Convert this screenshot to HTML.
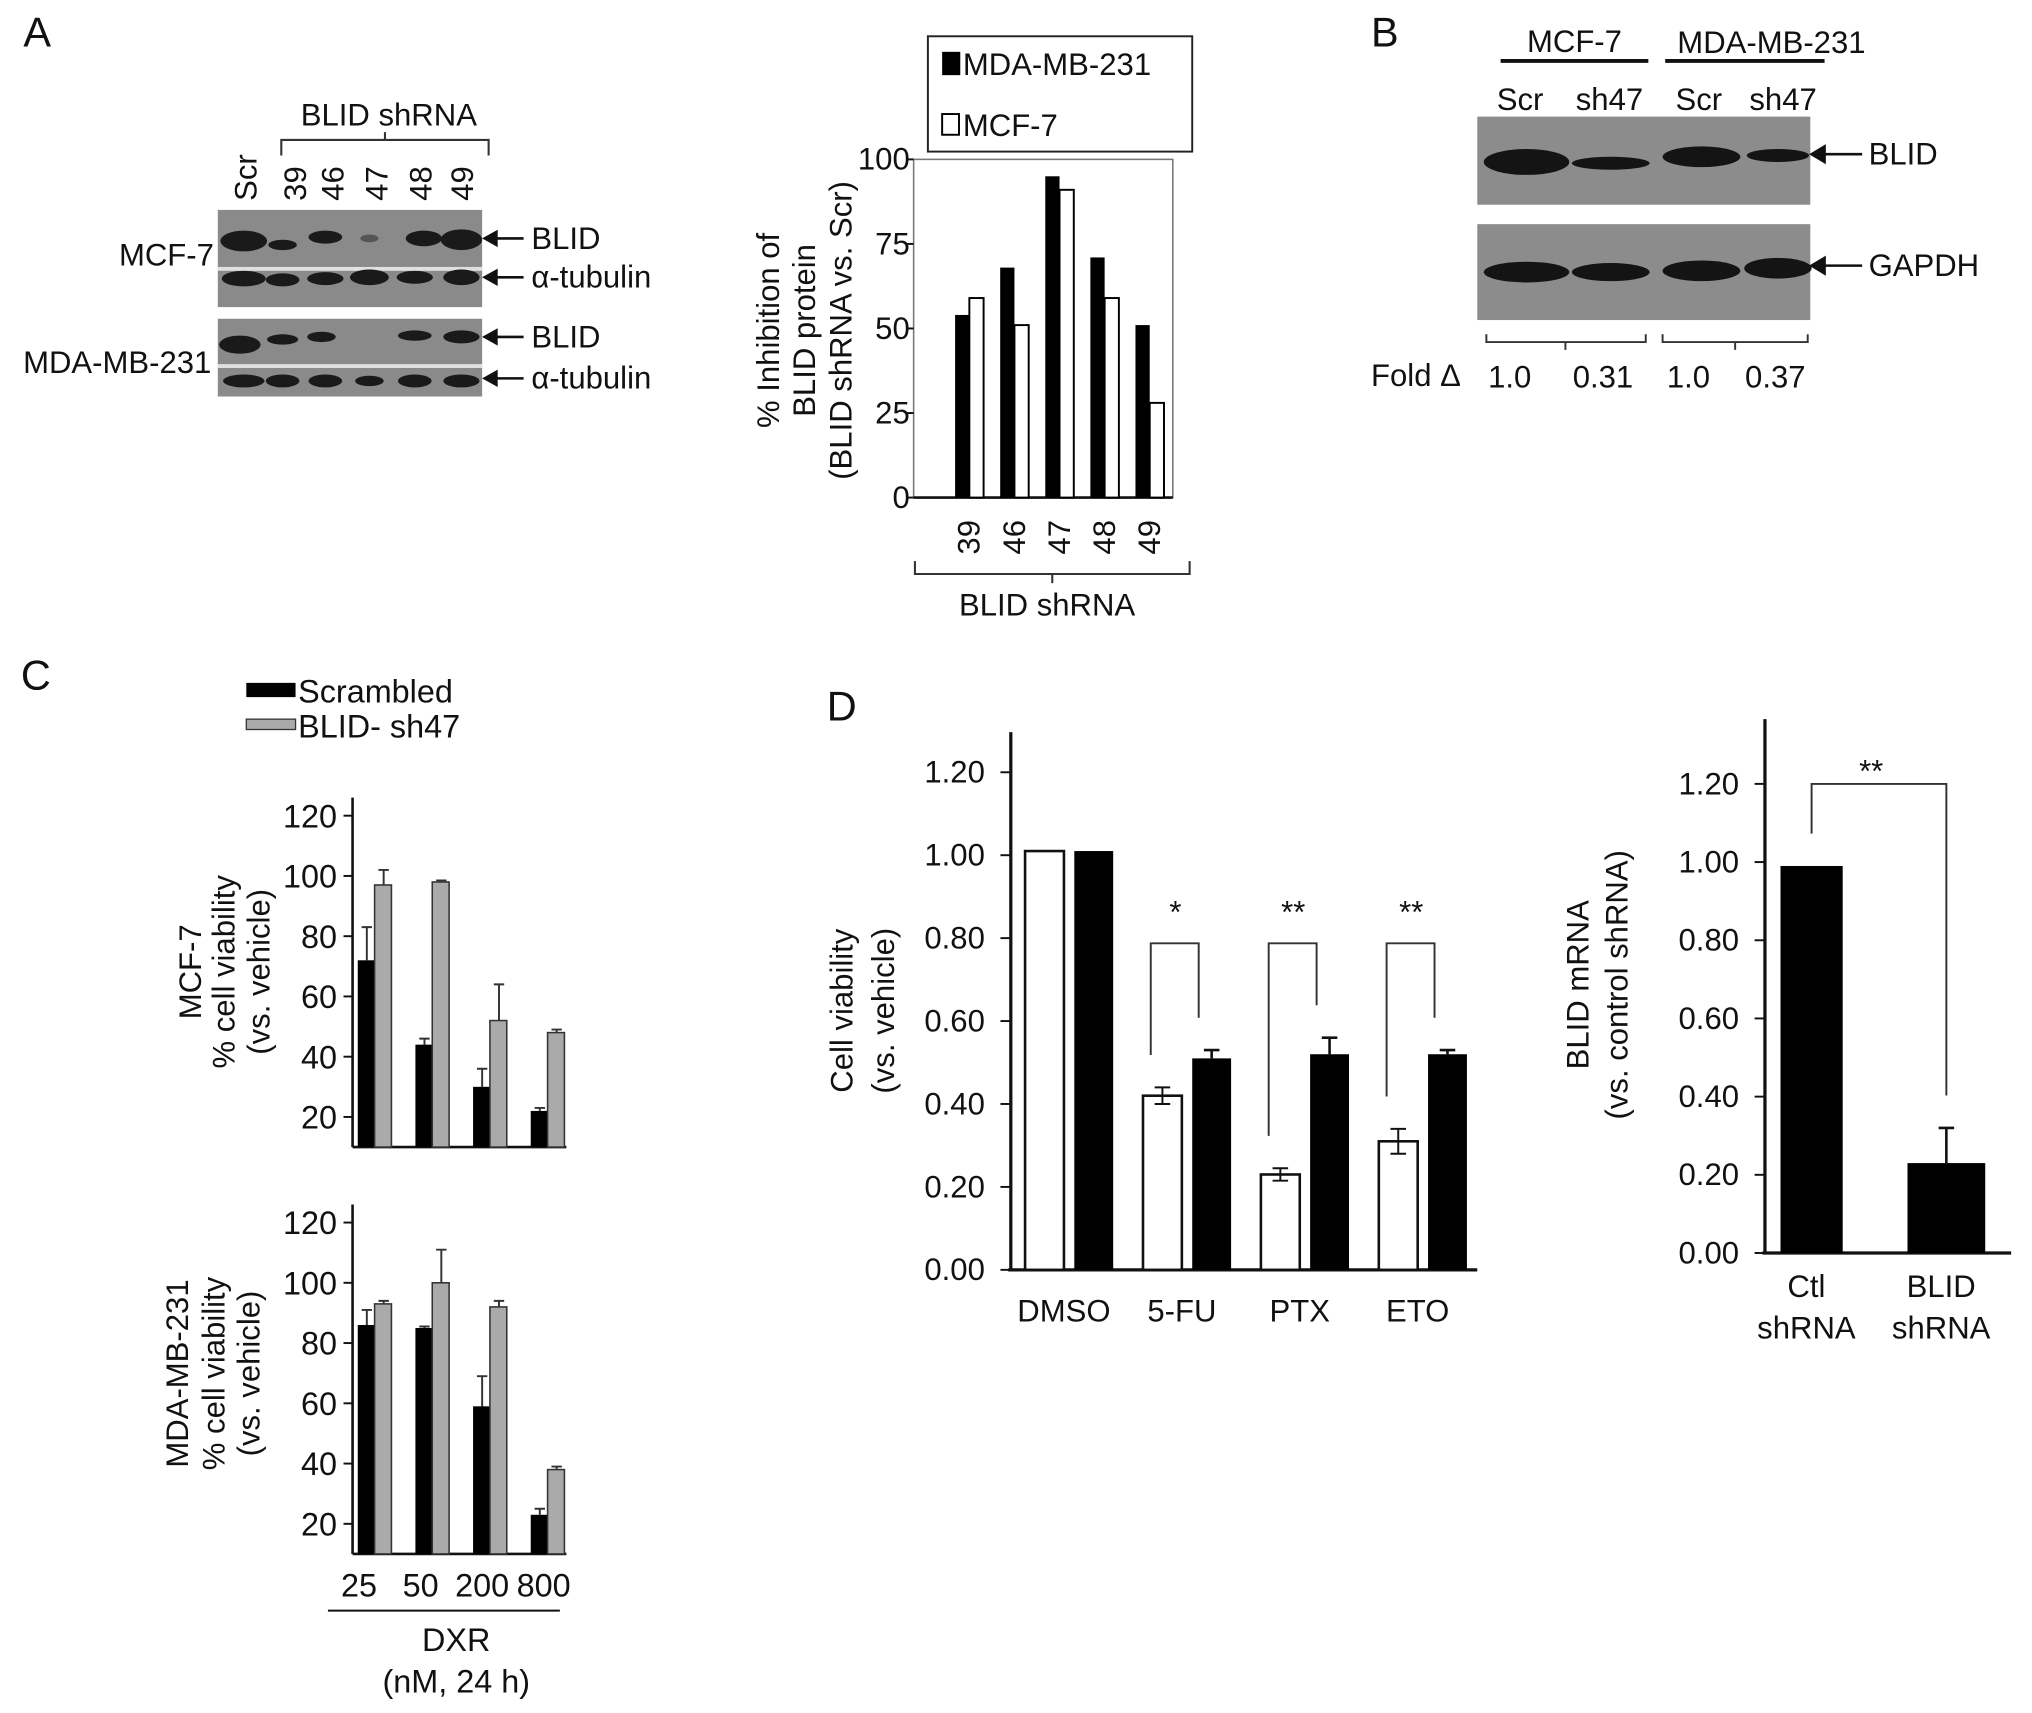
<!DOCTYPE html>
<html><head><meta charset="utf-8"><style>
html,body{margin:0;padding:0;background:#fff}
svg{display:block}
text{font-family:"Liberation Sans",Arial,sans-serif;fill:#111}
</style></head><body>
<svg id="fig" width="2032" height="1713" viewBox="0 0 1568 1322" xmlns="http://www.w3.org/2000/svg">
<text x="18" y="36" font-size="32">A</text>
<text x="1058" y="36" font-size="32">B</text>
<text x="16" y="532" font-size="32">C</text>
<text x="638" y="556" font-size="32">D</text>

<g font-size="24">
<text x="300" y="97" text-anchor="middle">BLID shRNA</text>
<path d="M217,120 V108 H377 V120 M297,108 V102" fill="none" stroke="#333" stroke-width="1.6"/>
<g>
<text transform="translate(198,155) rotate(-90)">Scr</text>
<text transform="translate(236,155) rotate(-90)">39</text>
<text transform="translate(265,155) rotate(-90)">46</text>
<text transform="translate(299,155) rotate(-90)">47</text>
<text transform="translate(333,155) rotate(-90)">48</text>
<text transform="translate(365,155) rotate(-90)">49</text>
</g>
<rect x="168" y="162" width="204" height="75" fill="#8a8a8a"/>
<rect x="168" y="206" width="204" height="3" fill="#e0e0e0"/>
<rect x="168" y="246" width="204" height="60" fill="#8a8a8a"/>
<rect x="168" y="281" width="204" height="3" fill="#e0e0e0"/>
<g fill="#1a1a1a">
<ellipse cx="188" cy="186" rx="18" ry="8"/><ellipse cx="218" cy="189" rx="11" ry="4"/><ellipse cx="251" cy="183" rx="13" ry="5"/><ellipse cx="285" cy="184" rx="7" ry="3" fill="#555"/><ellipse cx="327" cy="184" rx="14" ry="6"/><ellipse cx="356" cy="185" rx="16" ry="8"/>
<ellipse cx="188" cy="215" rx="17" ry="6"/><ellipse cx="218" cy="216" rx="13" ry="5"/><ellipse cx="251" cy="215" rx="14" ry="5"/><ellipse cx="285" cy="214" rx="15" ry="6"/><ellipse cx="320" cy="214" rx="14" ry="5"/><ellipse cx="356" cy="214" rx="14" ry="6"/>
<ellipse cx="185" cy="266" rx="16" ry="7"/><ellipse cx="218" cy="262" rx="12" ry="4"/><ellipse cx="248" cy="260" rx="11" ry="4"/><ellipse cx="320" cy="259" rx="13" ry="4"/><ellipse cx="356" cy="260" rx="14" ry="5"/>
<ellipse cx="188" cy="294" rx="16" ry="5"/><ellipse cx="218" cy="294" rx="13" ry="5"/><ellipse cx="251" cy="294" rx="13" ry="5"/><ellipse cx="285" cy="294" rx="11" ry="4"/><ellipse cx="320" cy="294" rx="13" ry="5"/><ellipse cx="356" cy="294" rx="14" ry="5"/>
</g>
<text x="165" y="205" text-anchor="end">MCF-7</text>
<text x="163" y="288" text-anchor="end">MDA-MB-231</text>
<g stroke="#111" stroke-width="2" fill="#111">
<line x1="378" y1="184" x2="404" y2="184"/><path d="M374,184 l9,-5 v10z"/>
<line x1="378" y1="214" x2="404" y2="214"/><path d="M374,214 l9,-5 v10z"/>
<line x1="378" y1="260" x2="404" y2="260"/><path d="M374,260 l9,-5 v10z"/>
<line x1="378" y1="292" x2="404" y2="292"/><path d="M374,292 l9,-5 v10z"/>
</g>
<text x="410" y="192">BLID</text><text x="410" y="222">α-tubulin</text>
<text x="410" y="268">BLID</text><text x="410" y="300">α-tubulin</text>
</g>

<g id="chartA" font-size="24">
<rect x="716" y="28" width="204" height="89" fill="#fff" stroke="#222" stroke-width="1.5"/>
<rect x="727" y="40" width="14" height="18" fill="#000"/>
<text x="743" y="58">MDA-MB-231</text>
<rect x="727" y="88" width="13" height="16" fill="#fff" stroke="#000" stroke-width="1.5"/>
<text x="743" y="105">MCF-7</text>
<rect x="705" y="123" width="200" height="261" fill="none" stroke="#777" stroke-width="1.2"/>
<line x1="705" y1="384" x2="905" y2="384" stroke="#111" stroke-width="2"/>
<g font-size="24">
<text transform="translate(601,255) rotate(-90)" text-anchor="middle">% Inhibition of</text>
<text transform="translate(629,255) rotate(-90)" text-anchor="middle">BLID protein</text>
<text transform="translate(657,255) rotate(-90)" text-anchor="middle">(BLID shRNA vs. Scr)</text>
</g>
<path d="M706,433 V443 H918 V433 M812,443 V450" fill="none" stroke="#333" stroke-width="1.6"/>
<text x="808" y="475" text-anchor="middle">BLID shRNA</text>
</g>

<g font-size="24">
<text x="1215" y="40" text-anchor="middle">MCF-7</text>
<line x1="1158" y1="47" x2="1272" y2="47" stroke="#111" stroke-width="3"/>
<text x="1367" y="41" text-anchor="middle">MDA-MB-231</text>
<line x1="1285" y1="47" x2="1408" y2="47" stroke="#111" stroke-width="3"/>
<text x="1173" y="85" text-anchor="middle">Scr</text><text x="1242" y="85" text-anchor="middle">sh47</text>
<text x="1311" y="85" text-anchor="middle">Scr</text><text x="1376" y="85" text-anchor="middle">sh47</text>
<rect x="1140" y="90" width="257" height="68" fill="#8c8c8c"/>
<rect x="1140" y="173" width="257" height="74" fill="#8c8c8c"/>
<g fill="#141414">
<ellipse cx="1178" cy="125" rx="33" ry="10"/><ellipse cx="1243" cy="126" rx="30" ry="5"/><ellipse cx="1313" cy="121" rx="30" ry="8"/><ellipse cx="1372" cy="120" rx="24" ry="5"/>
<ellipse cx="1178" cy="210" rx="33" ry="8"/><ellipse cx="1243" cy="210" rx="30" ry="7"/><ellipse cx="1313" cy="209" rx="30" ry="8"/><ellipse cx="1372" cy="207" rx="26" ry="8"/>
</g>
<g stroke="#111" stroke-width="2" fill="#111">
<line x1="1402" y1="119" x2="1437" y2="119"/><path d="M1398,119 l10,-6 v12z"/>
<line x1="1402" y1="205" x2="1437" y2="205"/><path d="M1398,205 l10,-6 v12z"/>
</g>
<text x="1442" y="127">BLID</text><text x="1442" y="213">GAPDH</text>
<path d="M1147,258 V264 H1270 V258 M1208,264 V270 M1283,258 V264 H1395 V258 M1339,264 V270" fill="none" stroke="#333" stroke-width="1.5"/>
<text x="1058" y="298">Fold Δ</text>
<text x="1165" y="299" text-anchor="middle">1.0</text><text x="1237" y="299" text-anchor="middle">0.31</text>
<text x="1303" y="299" text-anchor="middle">1.0</text><text x="1370" y="299" text-anchor="middle">0.37</text>
</g>

<g id="chartC" font-size="25">
<rect x="190" y="527" width="38" height="11" fill="#000"/>
<text x="230" y="542">Scrambled</text>
<rect x="190" y="555" width="38" height="8" fill="#aaa" stroke="#333" stroke-width="1"/>
<text x="230" y="569">BLID- sh47</text>
<g font-size="24">
<text transform="translate(155,750) rotate(-90)" text-anchor="middle">MCF-7</text>
<text transform="translate(181,750) rotate(-90)" text-anchor="middle">% cell viability</text>
<text transform="translate(208,750) rotate(-90)" text-anchor="middle">(vs. vehicle)</text>
<text transform="translate(145,1060) rotate(-90)" text-anchor="middle">MDA-MB-231</text>
<text transform="translate(173,1060) rotate(-90)" text-anchor="middle">% cell viability</text>
<text transform="translate(200,1060) rotate(-90)" text-anchor="middle">(vs. vehicle)</text>
</g>
<line x1="253" y1="1243" x2="432" y2="1243" stroke="#111" stroke-width="1.6"/>
<text x="352" y="1274" text-anchor="middle">DXR</text>
<text x="352" y="1306" text-anchor="middle">(nM, 24 h)</text>
</g>

<g id="chartD1" font-size="24">
<g font-size="24">
<text transform="translate(658,780) rotate(-90)" text-anchor="middle">Cell viability</text>
<text transform="translate(690,780) rotate(-90)" text-anchor="middle">(vs. vehicle)</text>
</g>
</g>
<g id="chartD2" font-size="24">
<g font-size="24">
<text transform="translate(1226,760) rotate(-90)" text-anchor="middle">BLID mRNA</text>
<text transform="translate(1256,760) rotate(-90)" text-anchor="middle">(vs. control shRNA)</text>
</g>
</g>
</svg>
<script>
const NS="http://www.w3.org/2000/svg";
const aCats=["39","46","47","48","49"];
const aMDA=[54,68,95,71,51];
const aMCF=[59,51,91,59,28];
const aTicks=[0,25,50,75,100];
const cCats=["25","50","200","800"];
const cTicks=[20,40,60,80,100,120];
const cMcfScr=[72,44,30,22];
const cMcfScrErr=[11,2,6,1];
const cMcfSh=[97,98,52,48];
const cMcfShErr=[5,0.5,12,1];
const cMdaScr=[86,85,59,23];
const cMdaScrErr=[5,0.5,10,2];
const cMdaSh=[93,100,92,38];
const cMdaShErr=[1,11,2,1];
const dCats=["DMSO","5-FU","PTX","ETO"];
const dTicks=[0,0.2,0.4,0.6,0.8,1.0,1.2];
const dWhite=[1.01,0.42,0.23,0.31];
const dWhiteErr=[0,0.02,0.015,0.03];
const dBlack=[1.01,0.51,0.52,0.52];
const dBlackErr=[0,0.02,0.04,0.01];
const dSig=["","*","**","**"];
const eCats=[["Ctl","shRNA"],["BLID","shRNA"]];
const eVals=[0.99,0.23];
const eErr=[0,0.09];
const eTicks=[0,0.2,0.4,0.6,0.8,1.0,1.2];

function mk(parent,tag,attrs,txt){const e=document.createElementNS(NS,tag);for(const k in attrs)e.setAttribute(k,attrs[k]);if(txt!==undefined)e.textContent=txt;parent.appendChild(e);return e;}

(function(){
 const g=document.getElementById('chartA');
 const y=v=>384-v*2.61;
 const cx=i=>748+i*34.8;
 aTicks.forEach(t=>{mk(g,'line',{x1:700,x2:705,y1:y(t),y2:y(t),stroke:'#111','stroke-width':1.5});
  const tx=mk(g,'text',{x:702,y:y(t)+8,'text-anchor':'end'},String(t));
  
  });
 aCats.forEach((c,i)=>{
  const b=mk(g,'rect',{x:cx(i)-11,y:y(aMDA[i]),width:11,height:384-y(aMDA[i]),fill:'#000'});
  
  
  const w=mk(g,'rect',{x:cx(i),y:y(aMCF[i]),width:11,height:384-y(aMCF[i]),fill:'#fff',stroke:'#000','stroke-width':1.5});
  
  
  const t=mk(g,'text',{transform:`translate(${cx(i)+8},428) rotate(-90)`},c);
  
  
 });
})();

function cPanel(top0,scr,scrE,sh,shE,name,showX){
 const g=document.getElementById('chartC');
 const base=top0;
 const y=v=>base-(v-20)*2.325;
 const bottom=y(10);
 const cx=i=>289+i*44.5;
 mk(g,'line',{x1:272,x2:272,y1:y(126),y2:bottom,stroke:'#111','stroke-width':2});
 mk(g,'line',{x1:272,x2:437,y1:bottom,y2:bottom,stroke:'#111','stroke-width':2});
 cTicks.forEach(t=>{mk(g,'line',{x1:265,x2:272,y1:y(t),y2:y(t),stroke:'#111','stroke-width':1.5});
  const tx=mk(g,'text',{x:260,y:y(t)+9,'text-anchor':'end'},String(t));
  
  });
 cCats.forEach((c,i)=>{
  const eb=(x,v,e)=>{mk(g,'path',{d:`M${x},${y(v)} V${y(v+e)} M${x-4},${y(v+e)} H${x+4}`,stroke:'#333','stroke-width':1.5,fill:'none'});};
  eb(cx(i)-6,scr[i],scrE[i]); eb(cx(i)+7,sh[i],shE[i]);
  const b=mk(g,'rect',{x:cx(i)-13,y:y(scr[i]),width:13,height:bottom-y(scr[i]),fill:'#000'});
  
  
  const s=mk(g,'rect',{x:cx(i),y:y(sh[i]),width:13,height:bottom-y(sh[i]),fill:'#aaa',stroke:'#333','stroke-width':1.2});
  
  
  if(showX){const t=mk(g,'text',{x:277+i*47.5,y:1232,'text-anchor':'middle'},c);
   
   }
 });
}
cPanel(862,cMcfScr,cMcfScrErr,cMcfSh,cMcfShErr,'mcf7',false);
cPanel(1176,cMdaScr,cMdaScrErr,cMdaSh,cMdaShErr,'mda',true);

(function(){
 const g=document.getElementById('chartD1');
 const y=v=>980-v*320;
 const cx=i=>824+i*91;
 mk(g,'line',{x1:780,x2:780,y1:565,y2:981,stroke:'#111','stroke-width':2.5});
 mk(g,'line',{x1:778,x2:1140,y1:980,y2:980,stroke:'#111','stroke-width':2.5});
 dTicks.forEach(t=>{mk(g,'line',{x1:772,x2:780,y1:y(t),y2:y(t),stroke:'#111','stroke-width':1.5});
  const tx=mk(g,'text',{x:760,y:y(t)+8,'text-anchor':'end'},t.toFixed(2));
  
  });
 dCats.forEach((c,i)=>{
  const x=cx(i);
  if(dBlackErr[i]>0)mk(g,'path',{d:`M${x+20},${y(dBlack[i])} V${y(dBlack[i]+dBlackErr[i])} M${x+14},${y(dBlack[i]+dBlackErr[i])} H${x+26}`,stroke:'#111','stroke-width':2,fill:'none'});
  const w=mk(g,'rect',{x:x-33,y:y(dWhite[i]),width:30,height:980-y(dWhite[i]),fill:'#fff',stroke:'#111','stroke-width':2});
  
  
  if(dWhiteErr[i]>0)mk(g,'path',{d:`M${x-18},${y(dWhite[i]-dWhiteErr[i])} V${y(dWhite[i]+dWhiteErr[i])} M${x-24},${y(dWhite[i]+dWhiteErr[i])} H${x-12} M${x-24},${y(dWhite[i]-dWhiteErr[i])} H${x-12}`,stroke:'#111','stroke-width':1.5,fill:'none'});
  const b=mk(g,'rect',{x:x+5,y:y(dBlack[i]),width:30,height:980-y(dBlack[i]),fill:'#000'});
  
  
  const t=mk(g,'text',{x:x-3,y:1020,'text-anchor':'middle'},c);
  
  
  if(dSig[i]){
   const lt=y(dWhite[i]+dWhiteErr[i])-25, rt=y(dBlack[i]+dBlackErr[i])-25;
   mk(g,'path',{d:`M${x-27},${lt} V728 H${x+10} V${rt}`,stroke:'#333','stroke-width':1.5,fill:'none'});
   const s=mk(g,'text',{x:x-8,y:712,'text-anchor':'middle'},dSig[i]);
   
   
  }
 });
})();

(function(){
 const g=document.getElementById('chartD2');
 const y=v=>967-v*301.7;
 const cx=[1398,1502];
 mk(g,'line',{x1:1362,x2:1362,y1:555,y2:968,stroke:'#111','stroke-width':2.5});
 mk(g,'line',{x1:1360,x2:1552,y1:967,y2:967,stroke:'#111','stroke-width':2.5});
 eTicks.forEach(t=>{mk(g,'line',{x1:1354,x2:1362,y1:y(t),y2:y(t),stroke:'#111','stroke-width':1.5});
  const tx=mk(g,'text',{x:1342,y:y(t)+8,'text-anchor':'end'},t.toFixed(2));
  
  });
 eVals.forEach((v,i)=>{
  if(eErr[i]>0)mk(g,'path',{d:`M${cx[i]},${y(v)} V${y(v+eErr[i])} M${cx[i]-6},${y(v+eErr[i])} H${cx[i]+6}`,stroke:'#111','stroke-width':2,fill:'none'});
  const b=mk(g,'rect',{x:cx[i]-24+(i?-6:0),y:y(v),width:48+(i?12:0),height:967-y(v),fill:'#000'});
  
  
  eCats[i].forEach((l,j)=>{const t=mk(g,'text',{x:cx[i]-4,y:1001+j*32,'text-anchor':'middle'},l);
   
   });
 });
 mk(g,'path',{d:`M${cx[0]},${y(eVals[0])-25} V605 H1502 V${y(eVals[1]+eErr[1])-25}`,stroke:'#333','stroke-width':1.5,fill:'none'});
 const s=mk(g,'text',{x:1444,y:603,'text-anchor':'middle'},'**');
 
 
})();
</script>
</body></html>
